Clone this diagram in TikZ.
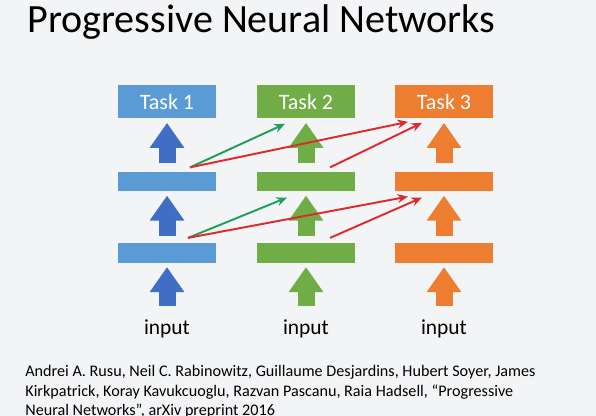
\documentclass[tikz,border=0pt]{standalone}
\usepackage{fontspec}
\setmainfont{Carlito}
\usetikzlibrary{arrows.meta}
\definecolor{slidebg}{HTML}{F3F4F6}
\definecolor{colblue}{HTML}{5B9BD5}
\definecolor{colbluedark}{HTML}{3F6EC4}
\definecolor{colgreen}{HTML}{70AD47}
\definecolor{colorange}{HTML}{ED7D31}
\definecolor{latred}{HTML}{DE2A2E}
\definecolor{latgreen}{HTML}{1E9E5A}

\begin{document}
\begin{tikzpicture}[
    task/.style={rectangle, minimum width=1.96cm, minimum height=0.66cm, inner sep=0pt, text=white, font=\fontsize{12.5}{14}\selectfont},
    hidden/.style={rectangle, minimum width=1.96cm, minimum height=0.39cm, inner sep=0pt},
    inlabel/.style={inner sep=0pt, anchor=base, font=\fontsize{12.2}{14}\selectfont},
    upflow/.style={line width=0.34cm, -{Triangle[length=0.5cm, width=0.66cm]}},
    lateral/.style={line width=1.1pt, -{Stealth[length=6pt, width=5pt]}}
]
    % Slide background and frame
    \fill[slidebg] (0,0) rectangle (11.92,-8.32);
    \useasboundingbox (0,0) rectangle (11.92,-8.32);

    % Title
    \node[anchor=base west, inner sep=0pt, font=\fontsize{22.8}{26}\selectfont] (title) at (0.54,-0.66) {Progressive Neural Networks};

    % Columns: task heads
    \node[task, fill=colblue] (task1) at (3.34,-2.04) {Task 1};
    \node[task, fill=colgreen] (task2) at (6.12,-2.04) {Task 2};
    \node[task, fill=colorange] (task3) at (8.88,-2.04) {Task 3};

    % Hidden layers
    \node[hidden, fill=colblue] (hb1) at (3.34,-3.63) {};
    \node[hidden, fill=colgreen] (hb2) at (6.12,-3.63) {};
    \node[hidden, fill=colorange] (hb3) at (8.88,-3.63) {};
    \node[hidden, fill=colblue] (ha1) at (3.34,-5.06) {};
    \node[hidden, fill=colgreen] (ha2) at (6.12,-5.06) {};
    \node[hidden, fill=colorange] (ha3) at (8.88,-5.06) {};

    % Inputs
    \node[inlabel] (in1) at (3.34,-6.70) {input};
    \node[inlabel] (in2) at (6.12,-6.70) {input};
    \node[inlabel] (in3) at (8.88,-6.70) {input};

    % Vertical flow
    \draw[upflow, colbluedark, shorten <=0.28cm, shorten >=0.08cm] (in1.north) -- (ha1.south);
    \draw[upflow, colbluedark, shorten <=0.14cm, shorten >=0.08cm] (ha1.north) -- (hb1.south);
    \draw[upflow, colbluedark, shorten <=0.16cm, shorten >=0.08cm] (hb1.north) -- (task1.south);
    \draw[upflow, colgreen, shorten <=0.28cm, shorten >=0.08cm] (in2.north) -- (ha2.south);
    \draw[upflow, colgreen, shorten <=0.14cm, shorten >=0.08cm] (ha2.north) -- (hb2.south);
    \draw[upflow, colgreen, shorten <=0.16cm, shorten >=0.08cm] (hb2.north) -- (task2.south);
    \draw[upflow, colorange, shorten <=0.28cm, shorten >=0.08cm] (in3.north) -- (ha3.south);
    \draw[upflow, colorange, shorten <=0.14cm, shorten >=0.08cm] (ha3.north) -- (hb3.south);
    \draw[upflow, colorange, shorten <=0.16cm, shorten >=0.08cm] (hb3.north) -- (task3.south);

    % Lateral connections
    \draw[lateral, latgreen] ([xshift=0.46cm, yshift=0.08cm]hb1.north) -- ([xshift=-0.42cm, yshift=-0.10cm]task2.south);
    \draw[lateral, latred] ([xshift=0.46cm, yshift=0.08cm]hb1.north) -- ([xshift=-0.72cm, yshift=-0.06cm]task3.south);
    \draw[lateral, latred] ([xshift=0.48cm, yshift=0.08cm]hb2.north) -- ([xshift=-0.44cm, yshift=-0.08cm]task3.south);
    \draw[lateral, latgreen] ([xshift=0.42cm, yshift=0.10cm]ha1.north) -- ([xshift=-0.38cm, yshift=-0.12cm]hb2.south);
    \draw[lateral, latred] ([xshift=0.42cm, yshift=0.10cm]ha1.north) -- ([xshift=-0.72cm, yshift=-0.10cm]hb3.south);
    \draw[lateral, latred] ([xshift=0.48cm, yshift=0.10cm]ha2.north) -- ([xshift=-0.44cm, yshift=-0.12cm]hb3.south);

    % Reference
    \node[anchor=north west, inner sep=0pt, align=left, font=\fontsize{9.2}{11.2}\selectfont] (ref) at (0.50,-7.30) {Andrei A. Rusu, Neil C. Rabinowitz, Guillaume Desjardins, Hubert Soyer, James\\ Kirkpatrick, Koray Kavukcuoglu, Razvan Pascanu, Raia Hadsell, “Progressive\\ Neural Networks”, arXiv preprint 2016};
\end{tikzpicture}
\end{document}
